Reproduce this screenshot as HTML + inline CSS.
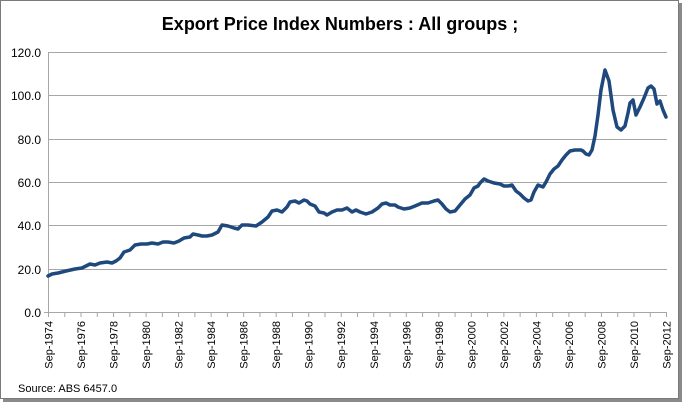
<!DOCTYPE html>
<html><head><style>
body{margin:0;background:#fff;}
svg{display:block;font-family:"Liberation Sans",sans-serif;}
</style></head><body>
<svg width="684" height="404" viewBox="0 0 684 404">
<rect x="0" y="0" width="684" height="404" fill="#fff"/>
<rect x="3" y="3" width="679" height="399" fill="#8a8a8a"/>
<rect x="0.5" y="0.5" width="678" height="398" fill="#fff" stroke="#7a7a7a"/>
<text x="340" y="30" text-anchor="middle" font-size="18" font-weight="bold" fill="#000">Export Price Index Numbers :   All groups ;</text>
<g stroke="#a6a6a6" stroke-width="1">
<line x1="48" y1="52.5" x2="667" y2="52.5"/>
<line x1="48" y1="95.5" x2="667" y2="95.5"/>
<line x1="48" y1="139.5" x2="667" y2="139.5"/>
<line x1="48" y1="182.5" x2="667" y2="182.5"/>
<line x1="48" y1="225.5" x2="667" y2="225.5"/>
<line x1="48" y1="269.5" x2="667" y2="269.5"/>
<line x1="44" y1="312.5" x2="667" y2="312.5"/>
<line x1="48.5" y1="52" x2="48.5" y2="312"/>
</g>
<g font-size="12" fill="#000" text-anchor="end">
<text x="41" y="57">120.0</text><text x="41" y="100">100.0</text><text x="41" y="144">80.0</text>
<text x="41" y="187">60.0</text><text x="41" y="230">40.0</text><text x="41" y="274">20.0</text><text x="41" y="317">0.0</text>
</g>
<g stroke="#a6a6a6" id="ticks"></g>
<g font-size="11" fill="#000" id="xl"></g>
<polyline fill="none" stroke="#1f497d" stroke-width="3.5" stroke-linejoin="round" stroke-linecap="round" points="48,276 52,274 58,273 66,271 75,269 82,268 90,264 95,265 100,263 107,262 112,263 116,261 120,258 124,252 130,250 135,245 141,244 147,244 152,243 158,244 163,242 168,242 174,243 179,241 184,238 190,237 193,234 198,235 202,236 207,236 212,235 218,232 222,225 228,226 234,228 238,229 242,225 248,225 256,226 262,222 268,217 272,211 277,210 282,212 287,207 290,202 295,201 299,203 304,200 307,201 310,204 315,206 319,212 324,213 327,215 332,212 337,210 342,210 347,208 352,212 356,210 360,212 366,214 372,212 378,208 382,204 386,203 390,205 395,205 398,207 404,209 410,208 415,206 422,203 428,203 434,201 438,200 442,204 446,209 450,212 455,211 460,205 465,199 470,195 474,188 478,186 480,183 484,179 488,181 494,183 500,184 504,186 508,186 512,185 516,191 520,194 524,198 528,201 531,200 534,192 538,185 543,187 546,182 550,174 554,169 558,166 562,160 566,155 570,151 575,150 581,150 583,151 586,154 589,155 592,150 595,136 598,115 601,90 605,70 609,81 613,110 617,127 621,130 625,126 628,113 630,103 633,100 636,115 640,107 644,98 648,88 651,86 654,89 657,104 660,101 663,110 666,117"/>
<text x="18" y="392" font-size="11" fill="#000">Source: ABS 6457.0</text>
<script>
var t=document.getElementById('ticks'),l=document.getElementById('xl'),ns='http://www.w3.org/2000/svg';
for(var i=0;i<=38;i++){var x=48.5+i*(618/38);var ln=document.createElementNS(ns,'line');ln.setAttribute('x1',x);ln.setAttribute('x2',x);ln.setAttribute('y1',312);ln.setAttribute('y2',317);t.appendChild(ln);
if(i%2==0){var tx=document.createElementNS(ns,'text');tx.setAttribute('transform','translate('+(x+4)+',321) rotate(-90)');tx.setAttribute('text-anchor','end');tx.textContent='Sep-'+(1974+i);l.appendChild(tx);}}
</script>
</svg>
</body></html>
